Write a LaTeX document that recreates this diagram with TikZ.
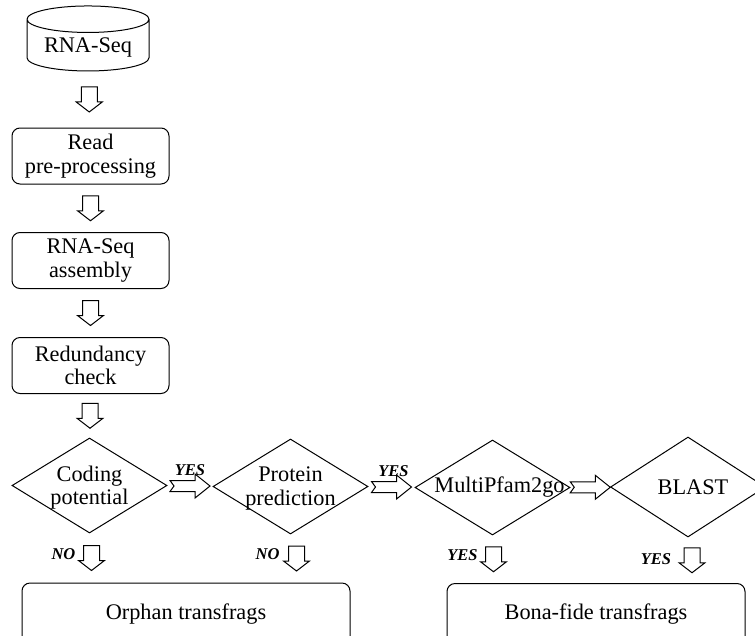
\documentclass[tikz,border=0pt]{standalone}
\usepackage{fontspec}
\setmainfont{Liberation Serif}
\usetikzlibrary{shapes.geometric,positioning,calc}

\tikzset{
  store/.style={draw,cylinder,shape border rotate=90,aspect=0.28,minimum width=122pt,minimum height=65pt},
  box/.style={draw,rounded corners=8pt,minimum width=157pt,minimum height=56pt,align=center},
  decision/.style={draw,diamond,minimum width=155pt,minimum height=95pt,inner sep=0pt},
  ans/.style={font=\fontsize{16.5}{18}\selectfont\bfseries\itshape},
  pics/downarr/.style={code={
    \draw (-8,-12.5) -- (-8,2.5) -- (-13,2.5) -- (0,12.5) -- (13,2.5) -- (8,2.5) -- (8,-12.5) -- cycle;}},
  pics/rightarr/.style={code={
    \draw (-20,-5.5) -- (5,-5.5) -- (5,-12) -- (20,0) -- (5,12) -- (5,5.5) -- (-20,5.5) -- (-16,0) -- cycle;}},
}

\begin{document}
\begin{tikzpicture}[x=1pt,y=-1pt,line width=1pt,font=\fontsize{22.3}{23.5}\selectfont]
\path[use as bounding box] (0,0) rectangle (755,635);
\clip (0,0) rectangle (755,635);

\node[store] (rnaseq) at (88,47.5) {RNA-Seq};
\node[box] (read)   at (90.5,156)   {Read\\pre-processing};
\node[box] (asm)    at (90.5,260.5) {RNA-Seq\\assembly};
\node[box] (redund) at (90.5,365.5) {Redundancy\\check};

\node[decision,label={[align=center,yshift=-2pt]center:Coding\\potential}]    (coding)  at (89.5,485.5) {};
\node[decision,label={[align=center,yshift=-2pt]center:Protein\\prediction}]  (protein) at (290.5,486.5) {};
\node[decision,label={[xshift=7pt]center:MultiPfam2go}]           (multi)   at (492.5,487.5) {};
\node[decision,minimum height=100pt,label={[xshift=5pt]center:BLAST}] (blast) at (688,487) {};

\node[box,minimum width=328pt,minimum height=62pt] (orphan) at (186,614)   {Orphan transfrags};
\node[box,minimum width=298pt,minimum height=62pt] (bona)   at (596,614.5) {Bona-fide transfrags};

% block arrows
\coordinate (v1) at ($(rnaseq.south)!.5!(read.north)$);
\coordinate (v2) at ($(read.south)!.5!(asm.north)$);
\coordinate (v3) at ($(asm.south)!.5!(redund.north)$);
\coordinate (v4) at ($(redund.south)!.5!(coding.north)$);
\foreach \c in {v1,v2,v3,v4} \pic at (\c) {downarr};

\coordinate (h1) at ($(coding.east)!.5!(protein.west)$);
\coordinate (h2) at ($(protein.east)!.5!(multi.west)$);
\coordinate (h3) at ($(multi.east)!.5!(blast.west)$);
\foreach \c in {h1,h2,h3} \pic at (\c) {rightarr};

\coordinate (d1) at ($(coding.south)!.5!(coding.south |- orphan.north)+(2,0)$);
\coordinate (d2) at ($(protein.south)!.5!(protein.south |- orphan.north)+(6,0)$);
\coordinate (d3) at ($(multi.south)!.5!(multi.south |- bona.north)+(1,0)$);
\coordinate (d4) at ($(blast.south)!.5!(blast.south |- bona.north)+(4,0)$);
\foreach \c in {d1,d2,d3,d4} \pic at (\c) {downarr};

% answers
\node[ans] (yes1) at ($(h1)+(0,-16)$) {YES};
\node[ans] (yes2) at ($(h2)+(2,-16)$) {YES};
\node[ans] (no1)  at ($(d1)+(-28,-4)$) {NO};
\node[ans] (no2)  at ($(d2)+(-29,-4)$) {NO};
\node[ans] (yes3) at ($(d3)+(-31,-4)$) {YES};
\node[ans] (yes4) at ($(d4)+(-36,-1)$) {YES};
\end{tikzpicture}
\end{document}
